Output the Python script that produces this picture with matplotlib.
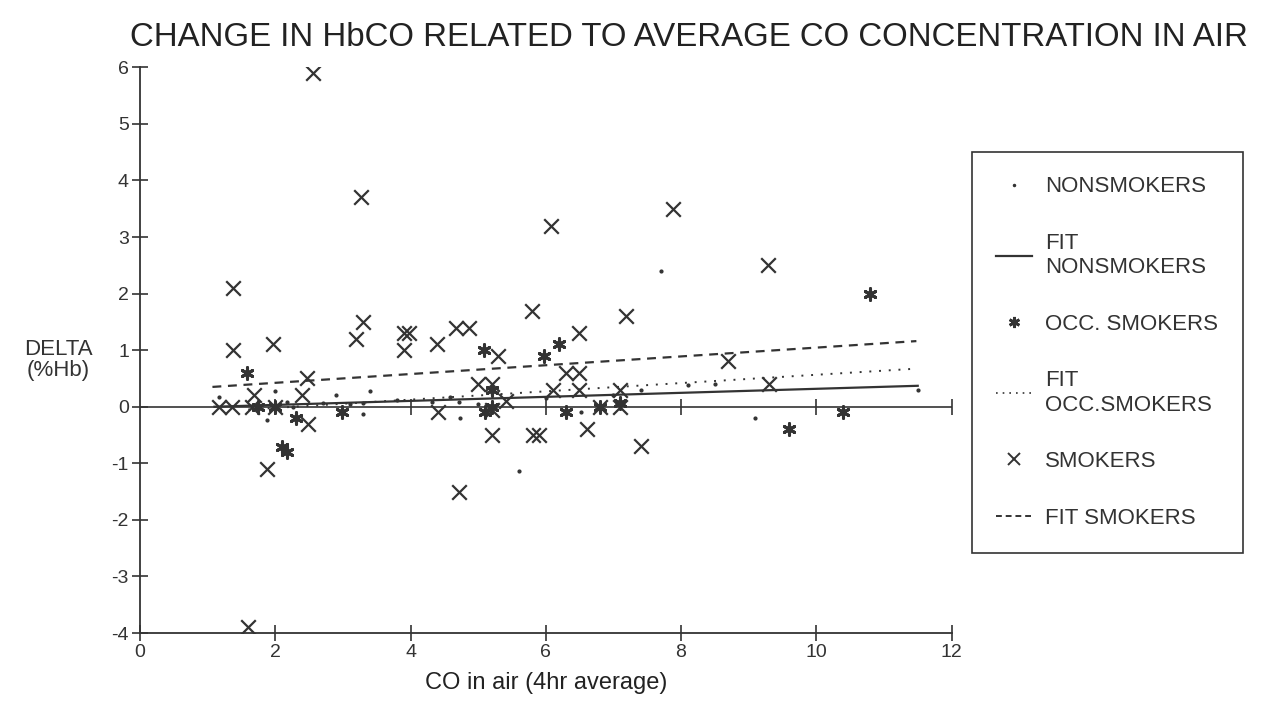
import matplotlib
matplotlib.use("Agg")
import matplotlib.pyplot as plt
from matplotlib.lines import Line2D

# smokers (X)
smokers_x = [2.55, 3.27, 1.37, 1.37, 1.97, 3.19, 3.29, 3.9, 3.97, 3.9, 4.39, 4.67, 4.87,
             6.07, 7.88, 9.29, 5.79, 7.19, 6.49, 5.29, 6.3, 6.49, 4.99, 5.21, 6.1, 6.49,
             7.1, 5.41, 8.7, 9.3, 2.47, 1.68, 2.4, 1.16, 1.36, 1.66, 2.0, 6.8, 7.1, 4.4,
             2.49, 1.88, 1.6, 5.21, 5.81, 5.9, 6.61, 7.41, 4.71, 5.2]
smokers_y = [5.9, 3.7, 2.1, 1.0, 1.1, 1.2, 1.5, 1.3, 1.3, 1.0, 1.1, 1.4, 1.4,
             3.2, 3.5, 2.5, 1.7, 1.6, 1.3, 0.9, 0.6, 0.6, 0.4, 0.4, 0.3, 0.3,
             0.3, 0.1, 0.8, 0.4, 0.5, 0.2, 0.2, 0.0, 0.0, 0.0, 0.0, 0.0, 0.0, -0.1,
             -0.3, -1.1, -3.9, -0.5, -0.5, -0.5, -0.4, -0.7, -1.5, -0.05]

# occasional smokers (*)
occ_x = [1.58, 1.75, 2.0, 2.3, 2.1, 2.17, 2.99, 5.08, 5.98, 6.19, 5.21, 5.21, 5.1,
         6.3, 6.8, 7.1, 10.8, 9.6, 10.4]
occ_y = [0.6, 0.0, 0.0, -0.2, -0.72, -0.8, -0.1, 1.0, 0.9, 1.1, 0.3, 0.0, -0.1,
         -0.1, 0.0, 0.07, 2.0, -0.4, -0.1]

# nonsmokers (.)
non_x = [1.17, 1.99, 1.88, 2.7, 2.89, 3.3, 3.4, 3.29, 2.26, 2.17, 4.32, 4.59, 4.71,
         4.73, 5.0, 6.52, 7.41, 8.1, 5.61, 7.7, 9.1, 11.5, 3.1, 3.8, 6.0, 7.0, 8.5]
non_y = [0.18, 0.28, -0.23, 0.07, 0.2, 0.07, 0.28, -0.12, 0.0, 0.09, 0.09, 0.18, 0.09,
         -0.2, 0.05, -0.1, 0.3, 0.39, -1.13, 2.4, -0.2, 0.3, 0.05, 0.12, 0.15, 0.2, 0.4]

# fitted lines (end points)
fit_non_x = [1.1, 11.5]
fit_non_y = [0.0, 0.37]
fit_occ_x = [1.6, 11.44]
fit_occ_y = [-0.05, 0.67]
fit_smk_x = [1.07, 11.48]
fit_smk_y = [0.35, 1.16]

x_ticks = [0, 2, 4, 6, 8, 10, 12]
y_ticks = [-4, -3, -2, -1, 0, 1, 2, 3, 4, 5, 6]

ink = "#333333"
font = ["Liberation Sans", "DejaVu Sans"]
plt.rcParams["axes.unicode_minus"] = False


def main():
    fig = plt.figure(figsize=(12.62, 7.01), dpi=100)
    ax = fig.add_axes([0.111, 0.097, 0.643, 0.807])

    # zero line with cross ticks
    ax.axhline(0, color=ink, lw=1.2, zorder=1)
    ax.plot(x_ticks[1:], [0] * (len(x_ticks) - 1), ls="none", marker="|",
            ms=11, mew=1.2, color=ink, zorder=1)

    # points
    ax.scatter(non_x, non_y, s=4, color=ink, zorder=3)
    ax.scatter(occ_x, occ_y, marker=(6, 2, 0), s=70, lw=2.2, color=ink, zorder=3)
    ax.scatter(smokers_x, smokers_y, marker="x", s=110, lw=1.6, color=ink, zorder=3)

    # fits
    ax.plot(fit_non_x, fit_non_y, color=ink, lw=1.6)
    ax.plot(fit_occ_x, fit_occ_y, color=ink, lw=1.4, ls=(0, (1, 4)))
    ax.plot(fit_smk_x, fit_smk_y, color=ink, lw=1.6, ls=(0, (4, 3)))

    ax.set_xlim(0, 12)
    ax.set_ylim(-4, 6)
    ax.set_xticks(x_ticks)
    ax.set_yticks(y_ticks)
    for s in ["top", "right"]:
        ax.spines[s].set_visible(False)
    for s in ["left", "bottom"]:
        ax.spines[s].set_color(ink)
        ax.spines[s].set_linewidth(1.3)
    ax.tick_params(direction="inout", length=12, width=1.2, color=ink,
                   labelsize=14, labelcolor=ink, pad=2)
    for lab in ax.get_xticklabels() + ax.get_yticklabels():
        lab.set_family(font)

    ax.set_xlabel("CO in air (4hr average)", fontsize=17, color="#222222",
                  family=font, labelpad=8)
    fig.text(0.046, 0.487, "DELTA\n(%Hb)", fontsize=16, color=ink, family=font,
             ha="center", va="center", linespacing=1.0)

    fig.text(0.546, 0.946, "CHANGE IN HbCO RELATED TO AVERAGE CO CONCENTRATION IN AIR",
             fontsize=23.8, color="#222222", family=font, ha="center", va="center")

    # legend
    handles = [
        Line2D([], [], ls="none", marker=".", ms=3, color=ink),
        Line2D([], [], color=ink, lw=1.6),
        Line2D([], [], ls="none", marker=(6, 2, 0), ms=8, mew=2, color=ink),
        Line2D([], [], color=ink, lw=1.2, ls=(0, (1, 3))),
        Line2D([], [], ls="none", marker="x", ms=8, mew=1.4, color=ink),
        Line2D([], [], color=ink, lw=1.4, ls=(0, (3, 2))),
    ]
    labels = ["NONSMOKERS", "FIT\nNONSMOKERS", "OCC. SMOKERS",
              "FIT\nOCC.SMOKERS", "SMOKERS", "FIT SMOKERS"]
    leg = fig.legend(handles, labels, loc="upper left",
                     bbox_to_anchor=(972 / 1262, 1 - 152 / 701),
                     prop={"family": font, "size": 16}, labelspacing=1.6,
                     handlelength=1.6, handletextpad=0.6, borderpad=1.1,
                     borderaxespad=0, fancybox=False, edgecolor=ink, framealpha=1)
    leg.get_frame().set_linewidth(1.2)
    for t in leg.get_texts():
        t.set_color(ink)

    fig.savefig("out.png", dpi=100)


if __name__ == "__main__":
    main()
